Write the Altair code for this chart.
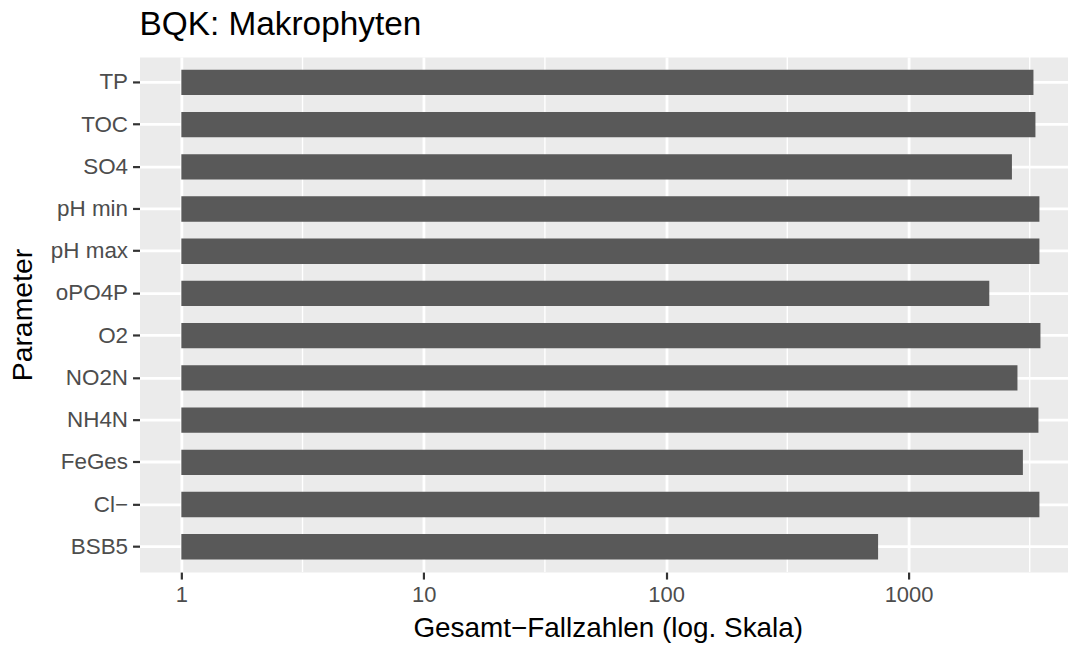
import altair as alt
import pandas as pd

# Data (alphabetical order as in the source; displayed top-to-bottom reversed)
params = ["BSB5", "Cl\u2212", "FeGes", "NH4N", "NO2N", "O2", "oPO4P",
          "pH max", "pH min", "SO4", "TOC", "TP"]
counts = [749, 3468, 2964, 3436, 2815, 3502, 2154, 3468, 3468, 2671, 3339, 3277]
major_breaks = [1, 10, 100, 1000]
minor_breaks = [3.162, 31.62, 316.2, 3162]

df = pd.DataFrame({"Parameter": params, "n": counts, "base": [1] * len(params)})
minor_df = pd.DataFrame({"n": minor_breaks})

FONT = "Liberation Sans"
order_top_down = list(reversed(params))

x_scale = alt.Scale(type="log", domain=[0.672, 4550], nice=False)
x_axis = alt.Axis(
    values=major_breaks, format="~g", title="Gesamt\u2212Fallzahlen (log. Skala)",
    grid=True, gridColor="white", gridWidth=2.8,
    domain=False, ticks=True, tickColor="#333333", tickWidth=2.2, tickSize=7,
    labelColor="#4D4D4D", labelFontSize=22, labelFont=FONT, labelPadding=6,
    titleFont=FONT, titleFontSize=28, titleColor="black", titleFontWeight="normal",
    titleBaseline="alphabetic", titleY=65, titleX=470,
)

minor = alt.Chart(minor_df).mark_rule(color="white", strokeWidth=1.4).encode(
    x=alt.X("n:Q", scale=x_scale, axis=x_axis)
)

bars = alt.Chart(df).mark_bar(color="#595959").encode(
    x=alt.X("n:Q", scale=x_scale, axis=x_axis),
    x2="base:Q",
    y=alt.Y(
        "Parameter:N",
        sort=order_top_down,
        scale=alt.Scale(paddingInner=0.4, paddingOuter=0.3),
        axis=alt.Axis(
            title="Parameter", bandPosition=0.5,
            grid=True, gridColor="white", gridWidth=2.8,
            domain=False, ticks=True, tickColor="#333333", tickWidth=2.2, tickSize=7,
            labelColor="#4D4D4D", labelFontSize=22.5, labelFont=FONT, labelPadding=5,
            titleFont=FONT, titleFontSize=28.5, titleColor="black", titleFontWeight="normal",
            titleBaseline="alphabetic", titleX=-108, titleAngle=-90,
        ),
    ),
)

chart = alt.layer(minor, bars).properties(
    width=932,
    height=517,
    background="white",
    title=alt.TitleParams(
        text="BQK: Makrophyten", anchor="start", frame="group", fontSize=33.5,
        font=FONT, color="black", fontWeight="normal", baseline="alphabetic", offset=-12,
    ),
    autosize=alt.AutoSizeParams(type="none"),
    padding={"left": 132, "top": 48, "right": 0, "bottom": 76},
).configure_view(fill="#EBEBEB", stroke="transparent")

chart.save("out.html", embed_options={"renderer": "svg", "actions": False})
